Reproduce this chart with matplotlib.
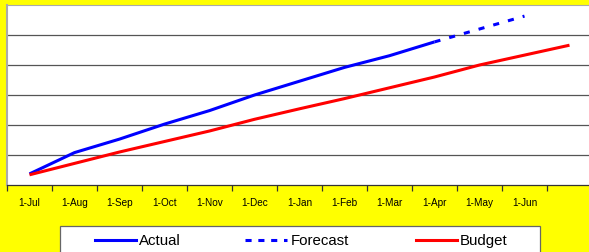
import matplotlib
matplotlib.use("Agg")
import matplotlib.pyplot as plt
from matplotlib.lines import Line2D
from matplotlib.patches import Rectangle

plt.rcParams['font.family'] = ['Liberation Sans', 'DejaVu Sans']

months = ['1-Jul', '1-Aug', '1-Sep', '1-Oct', '1-Nov', '1-Dec', '1-Jan',
          '1-Feb', '1-Mar', '1-Apr', '1-May', '1-Jun', '']
actual = [3.7, 10.8, 15.3, 20.3, 24.8, 30.0, 34.6, 39.2, 43.1, 47.7]
forecast_idx = [9, 10, 11]
forecast = [47.7, 52.0, 56.3]
budget = [3.4, 7.2, 11.0, 14.5, 18.0, 21.9, 25.4, 28.8, 32.4, 36.0, 40.0, 43.3, 46.6]

W, H = 589, 253
fig = plt.figure(figsize=(W / 100, H / 100), dpi=100, facecolor='#FFFF00')
ax = fig.add_axes([7 / W, (H - 186) / H, 585 / W, 180 / H])
ax.set_facecolor('white')

x = list(range(len(months)))
ax.plot(x[:len(actual)], actual, color='#0000FF', lw=2.2, solid_capstyle='butt',
        solid_joinstyle='round', zorder=3)
fl, = ax.plot(forecast_idx, forecast, color='#0000FF', lw=2.2, zorder=3)
fl.set_dashes([2, 3])
fl.set_dash_capstyle('butt')
ax.plot(x, budget, color='#FF0000', lw=2.2, solid_capstyle='butt',
        solid_joinstyle='round', zorder=3)

ax.set_xlim(-0.5, len(months) - 0.5)
ax.set_ylim(0, 60)
ax.set_yticks([10, 20, 30, 40, 50])
ax.yaxis.grid(True, color='#555555', lw=0.9)
ax.tick_params(axis='y', left=False, labelleft=False)

ax.set_xticks([i - 0.5 for i in range(len(months) + 1)])
ax.set_xticklabels([])
ax.set_xticks(x, minor=True)
ax.set_xticklabels(months, minor=True, fontsize=7.2)
ax.tick_params(axis='x', which='major', direction='out', length=4, width=0.9, color='#333333')
ax.tick_params(axis='x', which='minor', length=0, pad=9)

ax.spines['right'].set_visible(False)
ax.spines['top'].set_color('#aaaaaa')
ax.spines['left'].set_color('#aaaaaa')
ax.spines['left'].set_linewidth(1.5)
ax.spines['bottom'].set_color('#333333')
ax.spines['bottom'].set_linewidth(0.9)

# legend
def fx(px):
    return px / W

def fy(py):
    return 1 - py / H

fig.patches.append(Rectangle((fx(60), fy(256)), fx(540) - fx(60), fy(227) - fy(256),
                             transform=fig.transFigure, facecolor='white',
                             edgecolor='#666666', lw=0.9))
ly = fy(241)
fig.lines.append(Line2D([fx(95), fx(136)], [ly, ly], transform=fig.transFigure,
                        color='#0000FF', lw=2.2))
fd = Line2D([fx(245), fx(287)], [ly, ly], transform=fig.transFigure, color='#0000FF', lw=2.2)
fd.set_dashes([2, 2.2])
fig.lines.append(fd)
fig.lines.append(Line2D([fx(416), fx(457)], [ly, ly], transform=fig.transFigure,
                        color='#FF0000', lw=2.2))
fig.text(fx(139), ly, 'Actual', fontsize=10.8, va='center', ha='left')
fig.text(fx(291), ly, 'Forecast', fontsize=10.8, va='center', ha='left')
fig.text(fx(460), ly, 'Budget', fontsize=10.8, va='center', ha='left')

fig.savefig('out.png', dpi=100, facecolor=fig.get_facecolor())
